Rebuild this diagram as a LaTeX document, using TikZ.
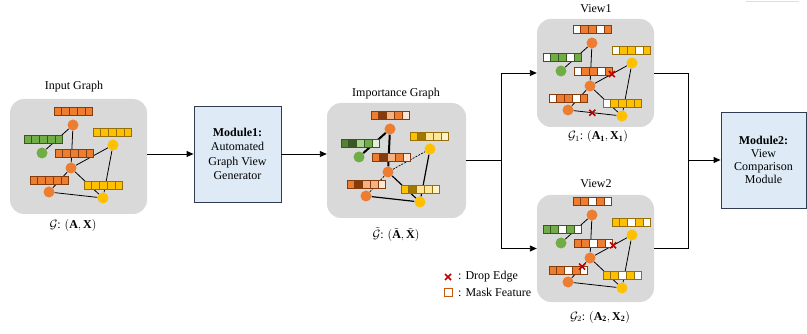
\documentclass[tikz,border=0pt]{standalone}
\usepackage{fontspec}
\setmainfont{Liberation Serif}
\usetikzlibrary{arrows.meta,calc}
\definecolor{pgray}{RGB}{217,217,217}
\definecolor{cor}{RGB}{237,125,49}
\definecolor{corB}{RGB}{132,60,12}
\definecolor{corL}{RGB}{244,177,131}
\definecolor{corV}{RGB}{251,229,214}
\definecolor{cgr}{RGB}{112,173,71}
\definecolor{cgrB}{RGB}{56,87,35}
\definecolor{cgrD}{RGB}{84,130,53}
\definecolor{cgrL}{RGB}{169,209,142}
\definecolor{cgrV}{RGB}{226,240,217}
\definecolor{cye}{RGB}{255,192,0}
\definecolor{cyeB}{RGB}{150,110,10}
\definecolor{cyeD}{RGB}{160,120,0}
\definecolor{cyeL}{RGB}{255,230,153}
\definecolor{cyeV}{RGB}{255,242,204}
\definecolor{modfill}{RGB}{222,235,247}
\definecolor{modline}{RGB}{47,60,82}
\definecolor{xred}{RGB}{192,0,0}
\definecolor{legsq}{RGB}{197,90,17}
\pgfdeclarelayer{panell}
\pgfdeclarelayer{edgel}
\pgfdeclarelayer{barl}
\pgfsetlayers{panell,edgel,barl,main}
\tikzset{
  lbl/.style={font=\fontsize{12}{14}\selectfont, inner sep=1pt},
  panel/.style={fill=pgray, draw=none, rounded corners=14pt, inner sep=0pt},
  modbox/.style={fill=modfill, draw=modline, line width=0.9pt, align=center, inner sep=2pt},
  gnode/.style={circle, inner sep=0pt, minimum size=11pt, draw=none},
  edge/.style={line width=0.8pt, black},
  thickedge/.style={line width=2pt, black},
  medge/.style={line width=1.2pt, black},
  dedge/.style={line width=0.7pt, black, dash pattern=on 2pt off 1.2pt},
  eA/.style={edge}, eB/.style={edge}, eC/.style={edge}, eD/.style={edge},
  eE/.style={edge}, eF/.style={edge}, eG/.style={edge},
  conn/.style={line width=0.9pt, black},
  arr/.style={conn, -{Triangle[length=7pt,width=6pt]}},
  redx/.style={xred, line width=1.6pt}
}
\newcommand\fbar[4]{%
  \foreach \cc [count=\ii from 0] in {#4} {
    \draw[draw=#3, fill=\cc, line width=0.6pt] ({#1+\ii*7.7},#2) rectangle ++(7.7,8);
  }}
\newcommand\drawgraph[8]{%
\begin{scope}[#2]
 \node[gnode,fill=cor] (#1-ot) at (73,125) {};
 \node[gnode,fill=cgr] (#1-g) at (42,153) {};
 \node[gnode,fill=cor] (#1-om) at (71,168) {};
 \node[gnode,fill=cye] (#1-yr) at (113,145) {};
 \node[gnode,fill=cor] (#1-ll) at (49,192) {};
 \node[gnode,fill=cye] (#1-yb) at (103,198) {};
 \begin{pgfonlayer}{barl}
  \fbar{54}{107}{corB}{#3}
  \fbar{24}{135}{cgrB}{#4}
  \fbar{93}{128}{cyeB}{#5}
  \fbar{55}{149}{corB}{#6}
  \fbar{30}{176}{corB}{#7}
  \fbar{84}{181}{cyeB}{#8}
 \end{pgfonlayer}
 \begin{pgfonlayer}{edgel}
  \draw[eA] (#1-ot) -- (#1-g);
  \draw[eB] (#1-ot) -- (#1-om);
  \draw[eC] (#1-om) -- (#1-yr);
  \draw[eD] (#1-om) -- (#1-ll);
  \draw[eE] (#1-om) -- (#1-yb);
  \draw[eF] (#1-ll) -- (#1-yb);
  \draw[eG] (#1-yr) -- (#1-yb);
 \end{pgfonlayer}
\end{scope}}
\newcommand\crossat[1]{%
  \draw[redx] ([shift={(-3,-3)}]#1) -- ([shift={(3,3)}]#1)
              ([shift={(-3,3)}]#1) -- ([shift={(3,-3)}]#1);}
\begin{document}
\begin{tikzpicture}[x=1pt,y=-1pt]
\useasboundingbox (0,0) rectangle (807,334);
\draw[gray!25, line width=0.8pt] (746,1) -- (799,1);
% panels
\begin{pgfonlayer}{panell}
\node[panel, minimum width=137pt, minimum height=115pt] (pin) at (78.5,156.5) {};
\node[panel, minimum width=139pt, minimum height=115pt] (pim) at (396.5,160.5) {};
\node[panel, minimum width=117pt, minimum height=108pt] (pv1) at (595.5,73) {};
\node[panel, minimum width=117pt, minimum height=107pt] (pv2) at (595.5,248.5) {};
\end{pgfonlayer}
% titles and labels
\node[lbl] (tin) at (74,87) {Input Graph};
\node[lbl] (tim) at (396,94) {Importance Graph};
\node[lbl] (tv1) at (596,9) {View1};
\node[lbl] (tv2) at (596,184) {View2};
\node[lbl] (gin) at (73,226) {$\mathcal{G}$: $(\mathbf{A},\mathbf{X})$};
\node[lbl] (gim) at (396,235) {$\tilde{\mathcal{G}}$: $(\tilde{\mathbf{A}},\tilde{\mathbf{X}})$};
\node[lbl] (gv1) at (598,137) {$\mathcal{G}_1$: $(\mathbf{A_1},\mathbf{X_1})$};
\node[lbl] (gv2) at (600,317) {$\mathcal{G}_2$: $(\mathbf{A_2},\mathbf{X_2})$};
% modules
\node[modbox, minimum width=87pt, minimum height=96pt, font=\fontsize{12}{14.5}\selectfont] (m1) at (237.5,154)
  {\textbf{Module1:}\\Automated\\Graph View\\Generator};
\node[modbox, minimum width=85pt, minimum height=96pt, font=\fontsize{12}{12.8}\selectfont] (m2) at (763.5,160)
  {\textbf{Module2:}\\View\\Comparison\\Module};
% graphs
\drawgraph{in}{shift={(0,0)}}{cor,cor,cor,cor,cor}{cgr,cgr,cgr,cgr,cgr}{cye,cye,cye,cye,cye}{cor,cor,cor,cor,cor}{cor,cor,cor,cor,cor}{cye,cye,cye,cye,cye}
\drawgraph{im}{shift={(317,4)},eA/.style=thickedge,eB/.style=thickedge,eC/.style=dedge,eD/.style=dedge,eE/.style=medge,eF/.style=medge,eG/.style=medge}{cor,corB,corL,cor,corV}{cgrD,cgrB,cgrL,cgr,cgrV}{cye,cyeD,cyeL,cyeL,cyeV}{cor,corB,corL,cor,corV}{cor,corB,corL,corL,corV}{cye,cyeD,cyeL,cyeL,cyeV}
\drawgraph{va}{shift={(519,-82)}}{white,cor,cor,white,cor}{white,cgr,cgr,white,cgr}{white,cye,cye,white,cye}{white,cor,cor,white,cor}{white,cor,cor,white,cor}{white,cye,cye,cye,cye}
\drawgraph{vb}{shift={(519,90)}}{cor,cor,white,cor,white}{cgr,cgr,white,cgr,white}{cye,cye,white,cye,white}{cor,cor,white,cor,white}{cor,cor,white,cor,white}{cye,cye,white,cye,white}
% drop-edge marks
\coordinate (xa1) at ($(va-om)!0.52!(va-yr)$);
\coordinate (xa2) at ($(va-ll)!0.45!(va-yb)$);
\coordinate (xb1) at ($(vb-om)!0.55!(vb-yr)$);
\coordinate (xb2) at ($(vb-om)!0.36!(vb-ll)$);
\crossat{xa1}\crossat{xa2}\crossat{xb1}\crossat{xb2}
% connectors
\draw[arr] (m1.west -| pin.east) -- (m1.west);
\draw[arr] (m1.east) -- (m1.east -| pim.west);
\coordinate (br1) at (501,160.5);
\draw[conn] (pim.east) -- (br1);
\draw[arr] (br1) |- (pv1.west);
\draw[arr] (br1) |- (pv2.west);
\coordinate (br2) at (688,160);
\draw[conn] (pv1.east) -| (br2);
\draw[conn] (pv2.east) -| (br2);
\draw[arr] (br2) -- (m2.west);
% legend
\coordinate (lx) at (448,277);
\crossat{lx}
\node[lbl, anchor=west] (ltx) at (457,277) {: Drop Edge};
\node[draw=legsq, fill=white, line width=0.8pt, minimum size=8pt, inner sep=0pt] (lsq) at (448,292) {};
\node[lbl, anchor=west] (lts) at (457,292) {: Mask Feature};
\end{tikzpicture}
\end{document}
